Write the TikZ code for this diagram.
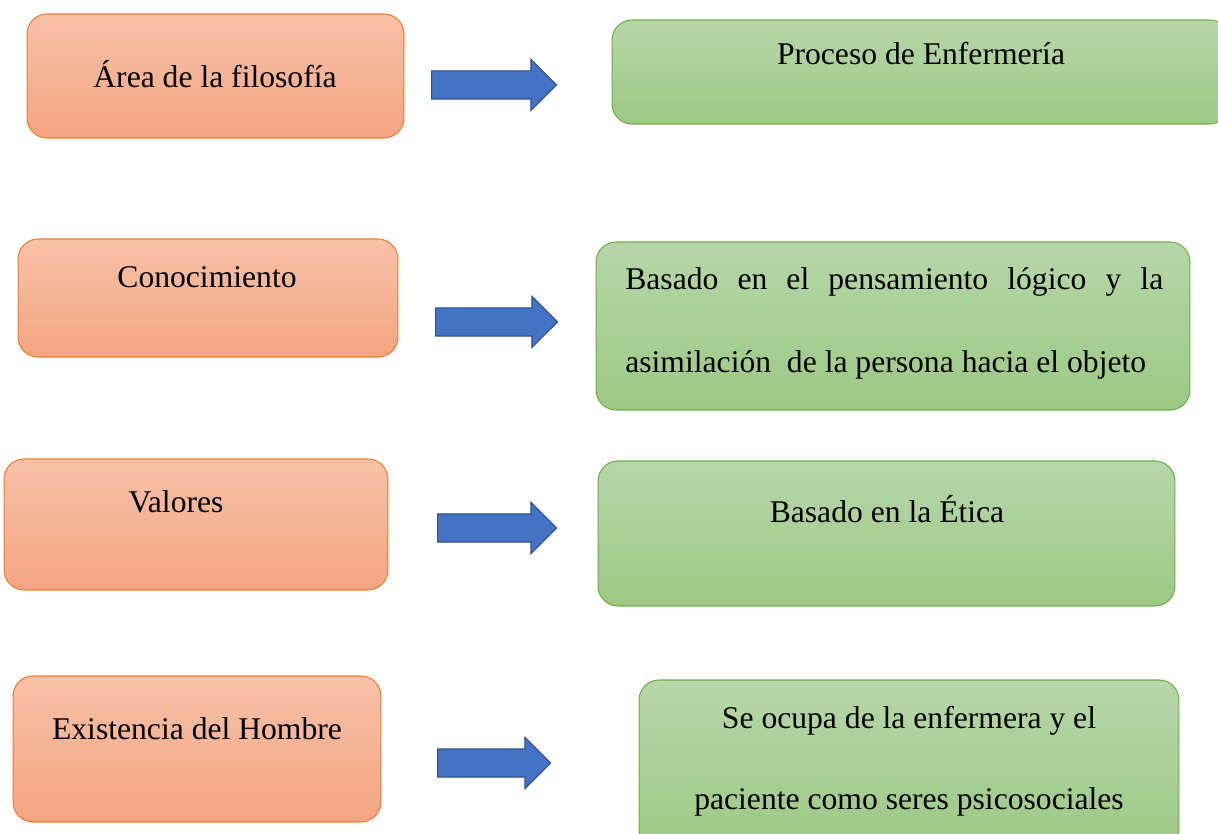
\documentclass[tikz,border=0pt]{standalone}
\usepackage{fontspec}
\setmainfont{Liberation Serif}
\usetikzlibrary{shapes, shapes.arrows, positioning}

\definecolor{orangetop}{HTML}{F7C1A8}
\definecolor{orangebot}{HTML}{F4A582}
\definecolor{orangeline}{HTML}{ED7D31}
\definecolor{greentop}{HTML}{B6D7A8}
\definecolor{greenbot}{HTML}{9DC884}
\definecolor{greenline}{HTML}{70AD47}
\definecolor{arrowfill}{HTML}{4472C4}
\definecolor{arrowline}{HTML}{2F528F}

\begin{document}
\begin{tikzpicture}[
    x=0.02cm, y=-0.02cm,
    leftbox/.style={draw=orangeline, line width=0.6pt, rounded corners=0.4cm, top color=orangetop, bottom color=orangebot},
    rightbox/.style={draw=greenline, line width=0.6pt, rounded corners=0.4cm, top color=greentop, bottom color=greenbot},
    bluearrow/.style={single arrow, anchor=tail, draw=arrowline, fill=arrowfill, line width=0.6pt, inner sep=0.27cm, single arrow head extend=0.23cm},
    txt/.style={anchor=base, inner sep=0pt, font=\fontsize{18}{22}\selectfont}
]

    \clip (0,0) rectangle (1218,834);
    \fill[white] (0,0) rectangle (1218,834);

    % Left column
    \node[leftbox, minimum width=7.54cm, minimum height=2.48cm] (area) at (215.5,76) {};
    \node[txt] (area_txt) at (215,88) {Área de la filosofía};

    \node[leftbox, minimum width=7.6cm, minimum height=2.36cm] (cono) at (208,298) {};
    \node[txt] (cono_txt) at (207,288) {Conocimiento};

    \node[leftbox, minimum width=7.68cm, minimum height=2.62cm] (valores) at (196,524.5) {};
    \node[txt] (valores_txt) at (176,513) {Valores};

    \node[leftbox, minimum width=7.36cm, minimum height=2.92cm] (exist) at (197,749) {};
    \node[txt] (exist_txt) at (197,739) {Existencia del Hombre};

    % Right column
    \node[rightbox, minimum width=12.36cm, minimum height=2.08cm] (proceso) at (921,72) {};
    \node[txt] (proceso_txt) at (921,65) {Proceso de Enfermería};

    \node[rightbox, minimum width=11.88cm, minimum height=3.36cm] (basado) at (893,326) {};
    \node[txt, anchor=base west] (basado_l1) at (625,290) {\makebox[10.76cm][s]{Basado en el pensamiento lógico y la}};
    \node[txt, anchor=base west] (basado_l2) at (625,373) {asimilación\ \ de la persona hacia el objeto};

    \node[rightbox, minimum width=11.54cm, minimum height=2.9cm] (etica) at (886.5,533.5) {};
    \node[txt] (etica_txt) at (887,523) {Basado en la Ética};

    \node[rightbox, minimum width=10.8cm, minimum height=3.4cm] (ocupa) at (909,765) {};
    \node[txt] (ocupa_l1) at (909,728) {Se ocupa de la enfermera y el};
    \node[txt] (ocupa_l2) at (909,809) {paciente como seres psicosociales};

    % Arrows
    \node[bluearrow, minimum height=2.5cm] (arr1) at (431,85) {};
    \node[bluearrow, minimum height=2.44cm] (arr2) at (435,322) {};
    \node[bluearrow, minimum height=2.38cm] (arr3) at (437,528) {};
    \node[bluearrow, minimum height=2.26cm] (arr4) at (437,763) {};

\end{tikzpicture}
\end{document}
